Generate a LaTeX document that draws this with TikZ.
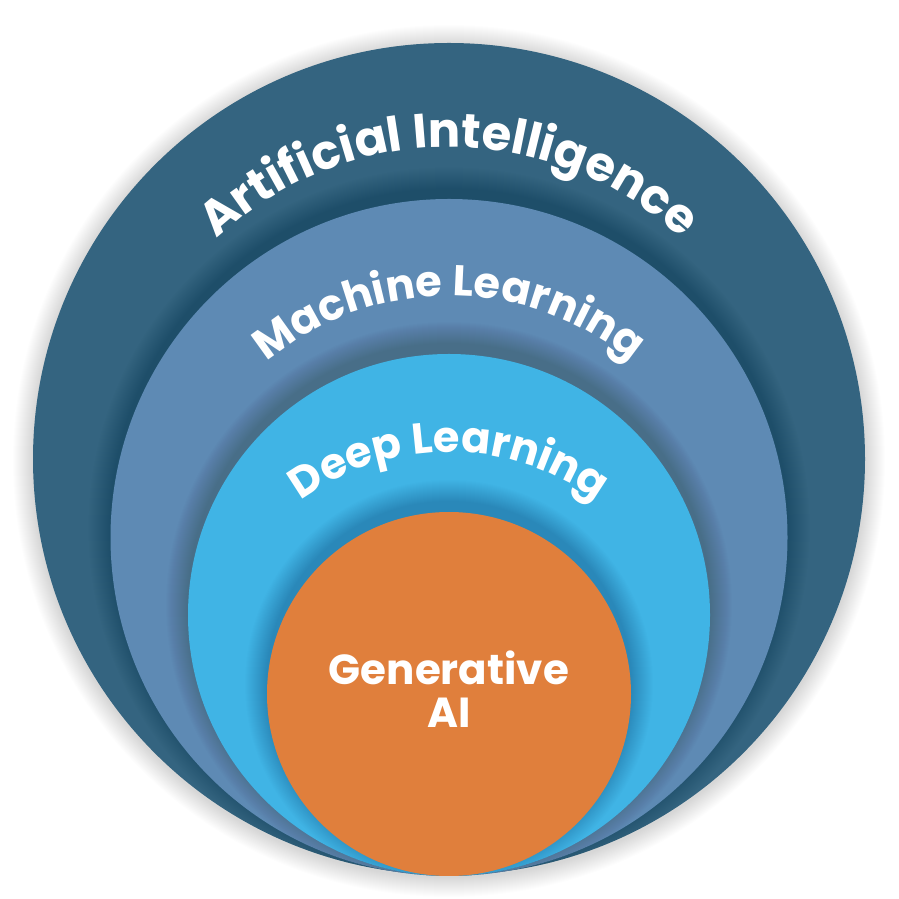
\documentclass[tikz,border=0pt]{standalone}
\usepackage{fontspec}
\setsansfont{Poppins}
\usetikzlibrary{decorations.text}
\definecolor{aiblue}{HTML}{346480}
\definecolor{mlblue}{HTML}{5E8AB4}
\definecolor{dlblue}{HTML}{40B4E5}
\definecolor{genorange}{HTML}{E07F3C}
\tikzset{
  gtext/.style={text=white,font=\sffamily\bfseries\fontsize{42}{48}\selectfont,inner sep=0pt},
  ring/.style={decorate,decoration={text along path,text align=center,text color=white,#1}}
}
\begin{document}
\begin{tikzpicture}[x=1pt,y=1pt]
\useasboundingbox (0,0) rectangle (898,899);
% outer soft shadow
\foreach \i in {1,...,20} \fill[black,opacity=0.008] (449,438) circle ({416+\i});
\fill[aiblue] (449,440) circle (416);
% ML shadow
\begin{scope}
\clip (449,440) circle (416);
\foreach \i in {1,...,22} \fill[black,opacity=0.009] (449,371) circle ({338.5+\i});
\end{scope}
\fill[mlblue] (449,361.5) circle (338.5);
% DL shadow
\begin{scope}
\clip (449,361.5) circle (338.5);
\foreach \i in {1,...,22} \fill[black,opacity=0.009] (449,294) circle ({261+\i});
\end{scope}
\fill[dlblue] (449,284) circle (261);
% GenAI shadow
\begin{scope}
\clip (449,284) circle (261);
\foreach \i in {1,...,22} \fill[black,opacity=0.009] (449,215) circle ({182+\i});
\end{scope}
\fill[genorange] (449,205) circle (182);
% curved labels
\path[ring={text={|\sffamily\bfseries\fontsize{48}{58}\selectfont|Artificial Intelligence}}]
  (109,412) arc[start angle=180,end angle=0,radius=340];
\path[ring={text={|\sffamily\bfseries\fontsize{43}{52}\selectfont|Machine Learning}}]
  (163,317) arc[start angle=180,end angle=0,radius=286];
\path[ring={text={|\sffamily\bfseries\fontsize{43}{52}\selectfont|Deep Learning}}]
  (199,197) arc[start angle=180,end angle=0,radius=250];
% centre label
\node[gtext,anchor=base] (gen) at (449,214) {Generative};
\node[gtext,anchor=base] (gai) at (449,171) {AI};
\end{tikzpicture}
\end{document}
